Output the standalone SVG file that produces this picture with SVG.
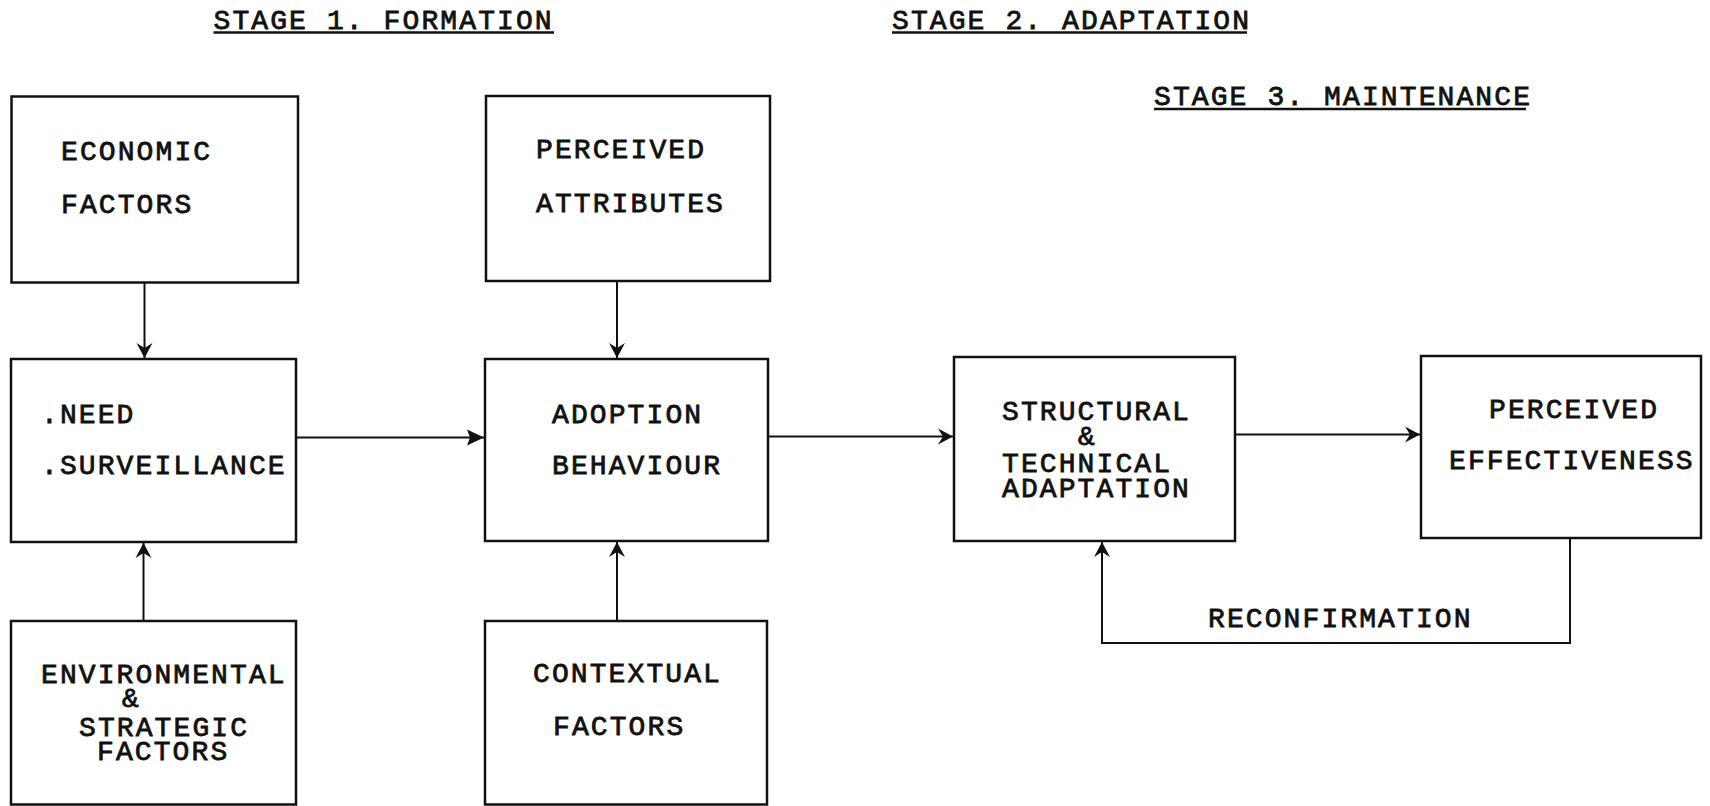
<svg xmlns="http://www.w3.org/2000/svg" width="1710" height="806" viewBox="0 0 1710 806">
  <style>
    text { font-family: "Liberation Mono", "Courier New", monospace; font-size: 28px; letter-spacing: 2.1px; fill: #111; stroke: #111; stroke-width: 0.8px; }
    .box { fill: none; stroke: #111; stroke-width: 2.5; }
    .wire { fill: none; stroke: #111; stroke-width: 2; }
    .rule { stroke: #111; stroke-width: 2.4; }
  </style>
  <defs>
    <marker id="barb" markerUnits="userSpaceOnUse" viewBox="-20 -10 22 20" markerWidth="22" markerHeight="20" refX="0" refY="0" orient="auto">
      <path d="M-15,-8 L0,0 L-15,8 L-10,0 Z" fill="#111"/>
    </marker>
    <marker id="solid" markerUnits="userSpaceOnUse" viewBox="-20 -10 22 20" markerWidth="22" markerHeight="20" refX="0" refY="0" orient="auto">
      <path d="M-17,-8 L0,0 L-17,8 L-14,0 Z" fill="#111"/>
    </marker>
  </defs>

  <!-- stage headings -->
  <g id="headings">
    <text x="213.5" y="28.5">STAGE 1. FORMATION</text>
    <line class="rule" x1="213.5" y1="32.5" x2="554" y2="32.5"/>
    <text x="892" y="28.5">STAGE 2. ADAPTATION</text>
    <line class="rule" x1="892" y1="32.5" x2="1247" y2="32.5"/>
    <text x="1154" y="105">STAGE 3. MAINTENANCE</text>
    <line class="rule" x1="1154" y1="109" x2="1526" y2="109"/>
  </g>

  <!-- connectors -->
  <g id="connectors">
    <line class="wire" x1="144.5" y1="282.5" x2="144.5" y2="358" marker-end="url(#barb)"/>
    <line class="wire" x1="617" y1="281" x2="617" y2="358" marker-end="url(#barb)"/>
    <line class="wire" x1="143.5" y1="621" x2="143.5" y2="543" marker-end="url(#barb)"/>
    <line class="wire" x1="617" y1="621" x2="617" y2="542" marker-end="url(#barb)"/>
    <line class="wire" x1="296" y1="437.5" x2="484" y2="437.5" marker-end="url(#solid)"/>
    <line class="wire" x1="768" y1="436.5" x2="953" y2="436.5" marker-end="url(#barb)"/>
    <line class="wire" x1="1235" y1="434.5" x2="1420" y2="434.5" marker-end="url(#barb)"/>
    <polyline class="wire" points="1570,538 1570,643 1102,643 1102,542" marker-end="url(#barb)"/>
    <text x="1208" y="627">RECONFIRMATION</text>
  </g>

  <!-- stage 1 -->
  <g id="economic">
    <rect class="box" x="11.5" y="96.5" width="286.5" height="186"/>
    <text x="61" y="160">ECONOMIC</text>
    <text x="61" y="213">FACTORS</text>
  </g>
  <g id="need">
    <rect class="box" x="11" y="359" width="285" height="183"/>
    <text x="41" y="423">.NEED</text>
    <text x="41" y="474">.SURVEILLANCE</text>
  </g>
  <g id="environmental">
    <rect class="box" x="11" y="621" width="285" height="183.5"/>
    <text x="41" y="683">ENVIRONMENTAL</text>
    <text x="122" y="707">&amp;</text>
    <text x="79" y="736">STRATEGIC</text>
    <text x="97" y="760">FACTORS</text>
  </g>
  <g id="perceived-attributes">
    <rect class="box" x="486" y="96" width="284" height="185"/>
    <text x="536" y="158">PERCEIVED</text>
    <text x="536" y="212">ATTRIBUTES</text>
  </g>
  <g id="adoption">
    <rect class="box" x="485" y="359" width="283" height="182"/>
    <text x="552" y="423">ADOPTION</text>
    <text x="552" y="474">BEHAVIOUR</text>
  </g>
  <g id="contextual">
    <rect class="box" x="485" y="621" width="282" height="183.5"/>
    <text x="533" y="682">CONTEXTUAL</text>
    <text x="553" y="735">FACTORS</text>
  </g>

  <!-- stages 2 and 3 -->
  <g id="structural">
    <rect class="box" x="954" y="357" width="281" height="184"/>
    <text x="1002" y="420">STRUCTURAL</text>
    <text x="1078" y="445">&amp;</text>
    <text x="1002" y="472">TECHNICAL</text>
    <text x="1002" y="497">ADAPTATION</text>
  </g>
  <g id="effectiveness">
    <rect class="box" x="1421" y="356" width="280" height="182"/>
    <text x="1489" y="418">PERCEIVED</text>
    <text x="1449" y="469">EFFECTIVENESS</text>
  </g>
</svg>
